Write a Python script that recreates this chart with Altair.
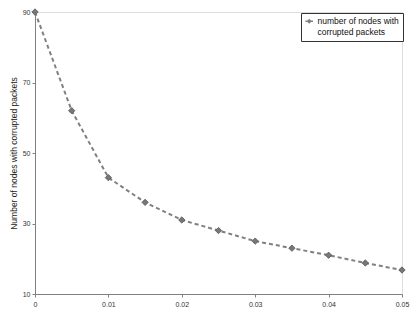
import altair as alt
import pandas as pd

x_vals = [0, 0.005, 0.01, 0.015, 0.02, 0.025, 0.03, 0.035, 0.04, 0.045, 0.05]
y_vals = [90, 62, 43, 36, 31, 28, 25, 23, 21, 18.8, 16.8]
series = ["number of nodes with corrupted packets"] * len(x_vals)
x_ticks = [0, 0.005, 0.01, 0.015, 0.02, 0.025, 0.03, 0.035, 0.04, 0.045, 0.05]
y_ticks = [10, 30, 50, 70, 90]

df = pd.DataFrame({"x": x_vals, "y": y_vals, "s": series})

font = "Liberation Sans"

xenc = alt.X("x:Q", scale=alt.Scale(domain=[0, 0.05], nice=False, zero=False),
             axis=alt.Axis(values=x_ticks, title=None, grid=False,
                           labelExpr="datum.value == 0 ? '0' : (round(datum.value*1000) % 10 == 0 ? format(datum.value, '.2f') : '')",
                           tickSize=3, labelFontSize=7, labelFont=font, labelColor="#333",
                           domainColor="#808080", tickColor="#808080", labelPadding=3,
                           labelFlush=False))
yenc = alt.Y("y:Q", scale=alt.Scale(domain=[10, 90], nice=False, zero=False),
             axis=alt.Axis(values=y_ticks, title="Number of nodes with corrupted packets",
                           grid=False, tickSize=3, labelFontSize=7, labelFont=font,
                           labelColor="#333", titleFont=font, titleFontSize=8.5,
                           titleFontWeight="normal", titleColor="#222", titlePadding=4,
                           domainColor="#808080", tickColor="#808080", labelPadding=2))

color = alt.Color("s:N", scale=alt.Scale(range=["#808080"]),
                  legend=alt.Legend(title=None, orient="none", legendX=266, legendY=1,
                                    labelExpr="['number of nodes with', 'corrupted packets']",
                                    labelFont=font, labelFontSize=8.5, labelColor="#111",
                                    strokeColor="#333", padding=4, fillColor="white",
                                    symbolType="M-1.2,0L-0.45,0M0.45,0L1.2,0M0,-0.45L0.45,0L0,0.45L-0.45,0Z",
                                    symbolSize=40, symbolStrokeWidth=1.5,
                                    symbolFillColor="#777", symbolStrokeColor="#808080",
                                    labelLimit=200))

line = alt.Chart(df).mark_line(strokeDash=[4, 3], strokeWidth=2).encode(
    x=xenc, y=yenc, color=color)
pts = alt.Chart(df).mark_point(shape="diamond", filled=True, size=40, fill="#777",
                               stroke="#555", strokeWidth=0.8, opacity=1).encode(
    x="x:Q", y="y:Q")

chart = alt.layer(line, pts).properties(
    width=367, height=282,
    autosize=alt.AutoSizeParams(type="none"),
    padding={"left": 27, "top": 4, "right": 8, "bottom": 15},
).configure_view(stroke="#808080", strokeWidth=1).configure(background="white")

chart.save("out.html", embed_options={"renderer": "svg", "actions": False})
